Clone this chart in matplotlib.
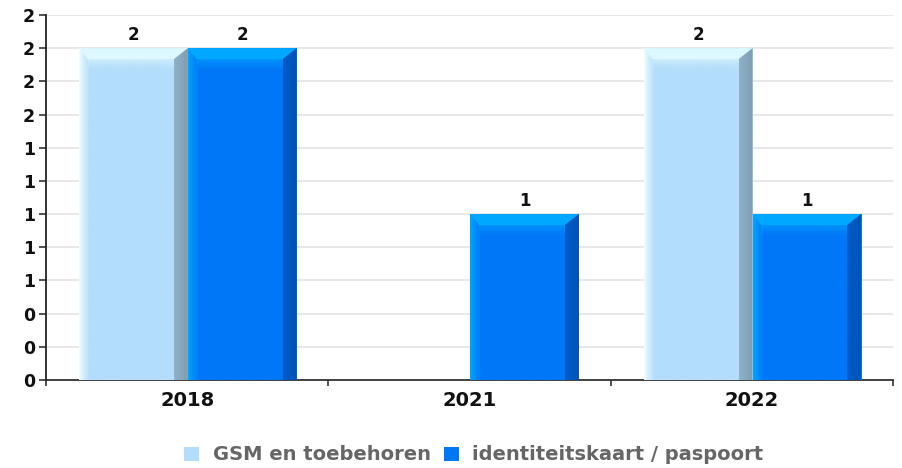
import numpy as np
import matplotlib.pyplot as plt
from matplotlib.patches import Polygon, Patch
from matplotlib.colors import to_rgb
from matplotlib.ticker import FuncFormatter, FixedLocator

years = ['2018', '2021', '2022']
series = ['GSM en toebehoren', 'identiteitskaart / paspoort']
gsm = [2, 0, 2]
id_kaart = [2, 1, 1]

# face, left edge, top bevel, right bevel colours per series
styles = {
    'GSM en toebehoren': dict(face='#b3ddfb', left='#f0ffff', top='#def8ff', right='#8fb2c9'),
    'identiteitskaart / paspoort': dict(face='#0077f7', left='#00a8ff', top='#00a8ff', right='#005dcc'),
}

W, H, DPI = 903, 468, 100
fig = plt.figure(figsize=(W / DPI, H / DPI), dpi=DPI)
ax_l, ax_r, ax_t, ax_b = 46, 893, 15, 380
ax = fig.add_axes([ax_l / W, (H - ax_b) / H, (ax_r - ax_l) / W, (ax_b - ax_t) / H])

ymax = 2.2
ax.set_xlim(-0.5, len(years) - 0.5)
ax.set_ylim(0, ymax)

# pixel size in data units
px_x = len(years) / (ax_r - ax_l)
px_y = ymax / (ax_b - ax_t)

bar_w = 0.385
offsets = [-0.19, 0.195]


def mix(c1, c2, t):
    a, b = np.array(to_rgb(c1)), np.array(to_rgb(c2))
    return a * (1 - t) + b * t


def draw_bar(xc, val, st):
    if val <= 0:
        return
    x0, x1 = xc - bar_w / 2, xc + bar_w / 2
    lb, rb, tb = 11 * px_x, 14 * px_x, 11 * px_y
    # horizontal gradient across the bar body
    n = 200
    xs = np.linspace(x0, x1, n)
    img = np.zeros((1, n, 3))
    for i, x in enumerate(xs):
        d = x - x0
        if d < lb:
            img[0, i] = mix(st['left'], st['face'], (d / lb) ** 0.8)
        else:
            img[0, i] = to_rgb(st['face'])
    ax.imshow(img, extent=(x0, x1, 0, val), aspect='auto',
              interpolation='bilinear', zorder=2)
    # top bevel
    top = Polygon([(x0, val), (x1, val), (x1 - rb, val - tb), (x0 + lb * 0.8, val - tb)],
                  closed=True, facecolor=st['top'], edgecolor='none', zorder=3)
    ax.add_patch(top)
    # fade under the top bevel
    n2 = 30
    fade = np.zeros((n2, 1, 4))
    for j in range(n2):
        fade[j, 0, :3] = to_rgb(st['top'])
        fade[j, 0, 3] = 0.55 * (1 - j / (n2 - 1))
    ax.imshow(fade, extent=(x0 + lb * 0.8, x1 - rb, val - 2.0 * tb, val - tb),
              aspect='auto', interpolation='bilinear', zorder=3)
    # right bevel
    n3 = 40
    rimg = np.zeros((1, n3, 3))
    for i in range(n3):
        rimg[0, i] = mix(st['right'], mix(st['right'], '#000000', 0.12), i / (n3 - 1))
    im = ax.imshow(rimg, extent=(x1 - rb, x1, 0, val), aspect='auto',
                   interpolation='bilinear', zorder=4)
    clip = Polygon([(x1 - rb, 0), (x1 - rb, val - tb), (x1, val), (x1, 0)],
                   closed=True, transform=ax.transData)
    im.set_clip_path(clip)
    ax.text(xc, val + 4 * px_y, f'{val:g}', ha='center', va='bottom',
            fontsize=12, fontweight='bold', color='#111111', zorder=6)


for k, vals in enumerate([gsm, id_kaart]):
    st = styles[series[k]]
    for i, v in enumerate(vals):
        draw_bar(i + offsets[k], v, st)

# axes styling
ax.set_yticks(np.arange(0, ymax + 0.01, 0.2))
ax.yaxis.set_major_formatter(FuncFormatter(lambda v, p: f'{v:.0f}'))
ax.grid(axis='y', color='#e4e4e4', linewidth=1.2, zorder=0)
ax.set_axisbelow(True)
ax.set_xticks(range(len(years)))
ax.set_xticklabels(years)
ax.xaxis.set_minor_locator(FixedLocator(np.arange(-0.5, len(years), 1.0)))
ax.tick_params(axis='x', which='major', length=0, pad=8)
ax.tick_params(axis='x', which='minor', length=4, width=1.2, color='#333333')
ax.tick_params(axis='y', length=5, width=1.2, color='#333333', pad=3)
for lab in ax.get_xticklabels():
    lab.set_fontweight('bold')
    lab.set_fontsize(14)
    lab.set_color('#111111')
for lab in ax.get_yticklabels():
    lab.set_fontweight('bold')
    lab.set_fontsize(12.5)
    lab.set_color('#111111')
for s in ['top', 'right']:
    ax.spines[s].set_visible(False)
ax.spines['left'].set_color('#222222')
ax.spines['left'].set_linewidth(1.3)
ax.spines['bottom'].set_color('#333333')
ax.spines['bottom'].set_linewidth(1.3)
ax.spines['bottom'].set_zorder(1)

handles = [Patch(facecolor=styles[s]['face'], edgecolor='none', label=s) for s in series]
leg = fig.legend(handles=handles, loc='center', bbox_to_anchor=(474 / W, 1 - 455 / H),
                 ncol=2, frameon=False, handlelength=0.75, handleheight=0.75,
                 handletextpad=0.7, columnspacing=0.7,
                 prop={'weight': 'bold', 'size': 14})
for t in leg.get_texts():
    t.set_color('#666666')

fig.savefig('out.png', dpi=DPI)
